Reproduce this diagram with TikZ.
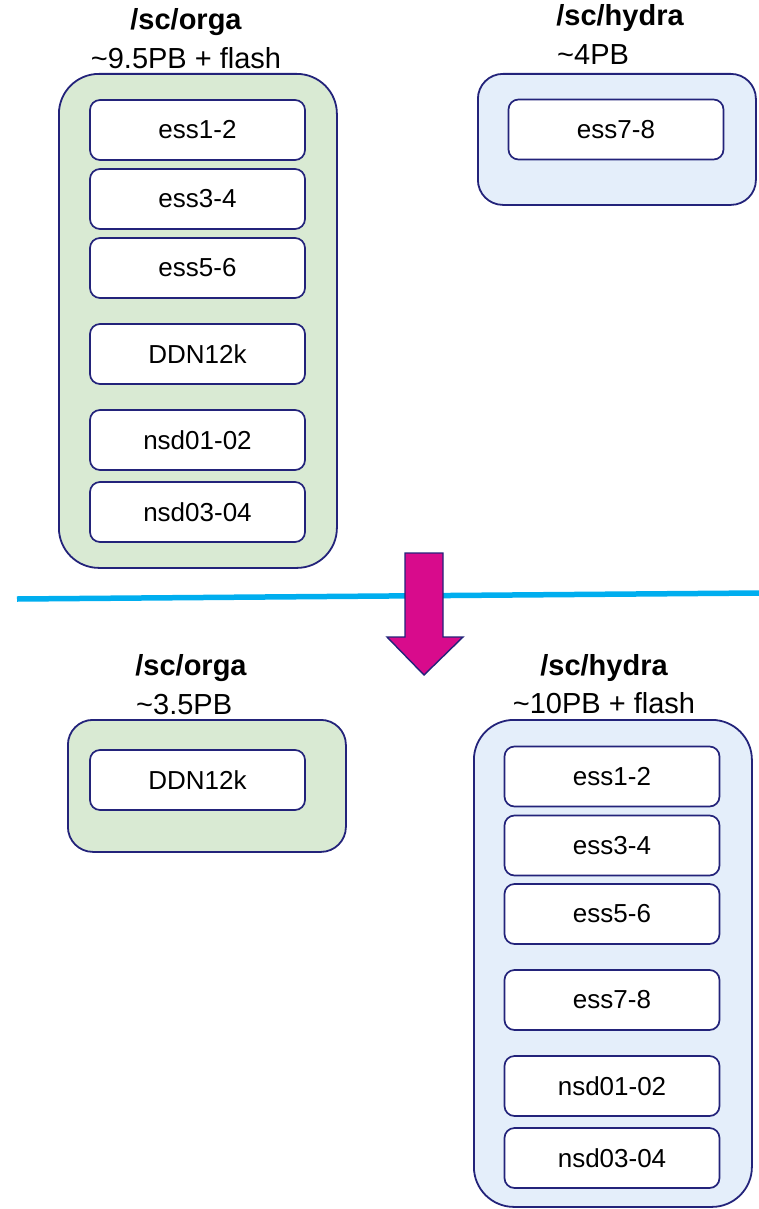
\documentclass[tikz,border=0pt]{standalone}
\usepackage{fontspec}
\setmainfont{Liberation Sans}
\definecolor{navy}{HTML}{23237A}
\definecolor{greenfill}{HTML}{D9EAD3}
\definecolor{bluefill}{HTML}{E4EEFA}
\definecolor{magentaA}{HTML}{D80B8C}
\definecolor{cyanline}{HTML}{00AEEF}
\begin{document}
\begin{tikzpicture}[x=1pt,y=-1pt,
  outerbox/.style={draw=navy, line width=1.8pt, minimum width=278pt, inner sep=0pt, anchor=north west},
  innerbox/.style={draw=navy, line width=1.7pt, fill=white, rounded corners=10pt, minimum width=215pt, minimum height=60pt, inner sep=0pt, font=\fontsize{26}{30}\selectfont},
  title/.style={font=\fontsize{29}{34}\selectfont\bfseries, inner sep=0pt},
  sub/.style={font=\fontsize{29}{34}\selectfont, inner sep=0pt}
]
\useasboundingbox (0,0) rectangle (759,1209);
% divider line
\coordinate (lineL) at (17,599);
\coordinate (lineR) at (759,593);
\draw[cyanline, line width=5.5pt] (lineL) -- (lineR);

% top-left group
\node[title] (t1) at (186,22) {/sc/orga};
\node[sub] (s1) at (186,58) {\textasciitilde 9.5PB + flash};
\node[outerbox, fill=greenfill, rounded corners=40pt, minimum height=494pt] (o1) at (58,73) {};
\node[innerbox] (a1) at (197.5,130) {ess1-2};
\node[innerbox] (a2) at (197.5,199) {ess3-4};
\node[innerbox] (a3) at (197.5,268) {ess5-6};
\node[innerbox] (a4) at (197.5,354) {DDN12k};
\node[innerbox] (a5) at (197.5,440) {nsd01-02};
\node[innerbox] (a6) at (197.5,512) {nsd03-04};

% top-right group
\node[title] (t2) at (620,18) {/sc/hydra};
\node[sub, anchor=west] (s2) at (557,55) {\textasciitilde 4PB};
\node[outerbox, fill=bluefill, rounded corners=25pt, minimum height=131pt] (o2) at (477,73) {};
\node[innerbox] (b1) at (616,129.5) {ess7-8};

% arrow
\draw[fill=magentaA, draw=navy, line width=1.4pt, line join=miter]
  (405,553) -- (443,553) -- (443,637) -- (463,637) -- (424,675) -- (387,637) -- (405,637) -- cycle;

% bottom-left group
\node[title] (t3) at (191,668) {/sc/orga};
\node[sub, anchor=west] (s3) at (136,705) {\textasciitilde 3.5PB};
\node[outerbox, fill=greenfill, rounded corners=25pt, minimum height=132pt] (o3) at (67,719) {};
\node[innerbox] (c1) at (197.5,780) {DDN12k};

% bottom-right group
\node[title] (t4) at (604,668) {/sc/hydra};
\node[sub] (s4) at (604,703) {\textasciitilde 10PB + flash};
\node[outerbox, fill=bluefill, rounded corners=40pt, minimum height=487pt] (o4) at (473,719) {};
\node[innerbox] (d1) at (612,776.5) {ess1-2};
\node[innerbox] (d2) at (612,845.5) {ess3-4};
\node[innerbox] (d3) at (612,914) {ess5-6};
\node[innerbox] (d4) at (612,1000) {ess7-8};
\node[innerbox] (d5) at (612,1086) {nsd01-02};
\node[innerbox] (d6) at (612,1158) {nsd03-04};
\end{tikzpicture}
\end{document}
